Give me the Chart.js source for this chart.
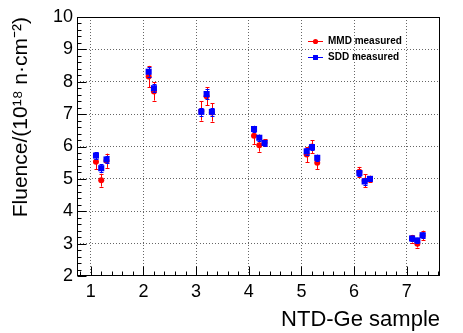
<!DOCTYPE html>
<html><head><meta charset="utf-8">
<script src="https://cdn.jsdelivr.net/npm/chart.js@4.4.1/dist/chart.umd.min.js"></script>
<style>html,body{margin:0;padding:0;background:#fff;}canvas{display:block;}</style>
</head><body>
<canvas id="c" width="463" height="333"></canvas>
<script>
// ---- data ----
const xTickLabels = ['1','2','3','4','5','6','7'];
const yTickLabels = ['2','3','4','5','6','7','8','9','10'];
const seriesNames = ['MMD measured','SDD measured'];
const pointX = [1.1,1.2,1.3, 2.1,2.2, 3.1,3.2,3.3, 4.1,4.2,4.3, 5.1,5.2,5.3, 6.1,6.2,6.3, 7.1,7.2,7.3];
const mmdY   = [5.53,4.96,5.56, 8.16,7.70, 7.10,7.55,7.05, 6.33,6.04,6.12, 5.75,6.00,5.50, 5.22,4.94,5.00, 3.15,3.00,3.25];
const mmdErr = [0.24,0.20,0.22, 0.33,0.28, 0.30,0.28,0.28, 0.25,0.20,0.10, 0.23,0.20,0.20, 0.15,0.20,0.10, 0.12,0.12,0.15];
const sddY   = [5.72,5.33,5.60, 8.31,7.80, 7.07,7.62,7.07, 6.54,6.27,6.11, 5.85,5.98,5.65, 5.18,4.92,5.00, 3.16,3.10,3.26];
const sddErr = [0.11,0.12,0.12, 0.15,0.13, 0.12,0.15,0.12, 0.10,0.10,0.08, 0.10,0.10,0.10, 0.10,0.10,0.08, 0.08,0.08,0.08];

const isInt = v => Math.abs(v - Math.round(v)) < 1e-6;
const toPts = ys => pointX.map((x, i) => ({x: x, y: ys[i]}));

const errorBars = {
  id: 'errorBars',
  beforeDatasetDraw(chart, args) {
    const ds = chart.data.datasets[args.index];
    const errs = ds.errors;
    const ctx = chart.ctx, xs = chart.scales.x, ys = chart.scales.y;
    ctx.save();
    ctx.strokeStyle = ds.borderColor;
    ctx.lineWidth = 1;
    ds.data.forEach((p, i) => {
      const px = Math.round(xs.getPixelForValue(p.x)) + 0.5;
      const y1 = ys.getPixelForValue(p.y + errs[i]);
      const y2 = ys.getPixelForValue(p.y - errs[i]);
      ctx.beginPath();
      ctx.moveTo(px, y1); ctx.lineTo(px, y2);
      ctx.moveTo(px - 2, Math.round(y1) + 0.5); ctx.lineTo(px + 2, Math.round(y1) + 0.5);
      ctx.moveTo(px - 2, Math.round(y2) + 0.5); ctx.lineTo(px + 2, Math.round(y2) + 0.5);
      ctx.stroke();
    });
    ctx.restore();
  }
};

const frameAndTicks = {
  id: 'frameAndTicks',
  beforeDraw(chart) {
    const ctx = chart.ctx;
    ctx.save(); ctx.fillStyle = '#fff'; ctx.fillRect(0, 0, chart.width, chart.height); ctx.restore();
  },
  afterDraw(chart) {
    const ctx = chart.ctx, ca = chart.chartArea, xs = chart.scales.x, ys = chart.scales.y;
    ctx.save();
    ctx.strokeStyle = '#000'; ctx.lineWidth = 1;
    const L = Math.round(ca.left) + 0.5, R = Math.round(ca.right) - 0.5;
    const T = Math.round(ca.top) + 0.5, B = Math.round(ca.bottom) - 0.5;
    ctx.beginPath();
    ys.ticks.forEach(t => {
      const py = Math.round(ys.getPixelForValue(t.value)) + 0.5;
      const len = isInt(t.value) ? 9 : 4;
      ctx.moveTo(L, py); ctx.lineTo(L + len, py);
    });
    xs.ticks.forEach(t => {
      const px = Math.round(xs.getPixelForValue(t.value)) + 0.5;
      const len = isInt(t.value) ? 9 : 4;
      ctx.moveTo(px, B); ctx.lineTo(px, B - len);
    });
    ctx.stroke();
    ctx.strokeRect(L, T, R - L, B - T);
    // legend
    const items = [0, 1];
    ctx.font = 'bold 10px "Liberation Sans", Arial, sans-serif';
    ctx.textBaseline = 'middle'; ctx.textAlign = 'left';
    items.forEach((di, k) => {
      const ds = chart.data.datasets[di];
      const y = Math.round(ca.top + 24 + k * 16) + 0.5;
      const x0 = ca.left + 231, x1 = ca.left + 246;
      ctx.strokeStyle = ds.borderColor; ctx.fillStyle = ds.backgroundColor;
      ctx.beginPath(); ctx.moveTo(x0, y); ctx.lineTo(x1, y); ctx.stroke();
      Chart.helpers.drawPoint(ctx, {pointStyle: ds.pointStyle, radius: ds.pointStyle === 'rect' ? 3.5 : 2.6, borderWidth: 0, rotation: 0}, (x0 + x1) / 2, y);
      ctx.fillStyle = '#000';
      ctx.fillText(ds.label, x1 + 5, y);
    });
    ctx.restore();
  }
};

new Chart(document.getElementById('c'), {
  type: 'scatter',
  data: {
    datasets: [
      {label: seriesNames[0], data: toPts(mmdY), errors: mmdErr, pointStyle: 'circle', pointRadius: 3, pointBorderWidth: 0,
       backgroundColor: '#ff0000', borderColor: '#ff0000', order: 2},
      {label: seriesNames[1], data: toPts(sddY), errors: sddErr, pointStyle: 'rect', pointRadius: 4.3, pointBorderWidth: 0,
       backgroundColor: '#0000ff', borderColor: '#0000ff', order: 1}
    ]
  },
  options: {
    responsive: false,
    animation: false,
    layout: {padding: {left: 0, top: 17, right: 23, bottom: 0}},
    plugins: {legend: {display: false}, tooltip: {enabled: false}},
    scales: {
      x: {
        type: 'linear', min: 0.74, max: 7.63,
        afterFit: s => { s.height = 57; },
        grid: {drawTicks: false, color: 'rgba(0,0,0,0.6)', lineWidth: c => (c.tick && isInt(c.tick.value) && c.tick.value > 0.9 && c.tick.value < 7.5) ? 1 : 0},
        border: {display: false, dash: [1, 2]},
        ticks: {stepSize: 0.2, includeBounds: false, autoSkip: false, maxRotation: 0, minRotation: 0, padding: 5,
          color: '#000', font: {family: '"Liberation Sans", Arial, sans-serif', size: 18},
          callback: v => isInt(v) ? (xTickLabels[Math.round(v) - 1] || '') : ''},
        title: {display: true, text: 'NTD-Ge sample', align: 'end', color: '#000',
          font: {family: '"Liberation Sans", Arial, sans-serif', size: 22}, padding: {top: 4, bottom: 0}}
      },
      y: {
        type: 'linear', min: 2, max: 10,
        afterFit: s => { s.width = 77; },
        grid: {drawTicks: false, color: 'rgba(0,0,0,0.6)', lineWidth: c => (c.tick && isInt(c.tick.value) && c.tick.value > 2.5 && c.tick.value < 9.5) ? 1 : 0},
        border: {display: false, dash: [1, 2]},
        ticks: {stepSize: 0.2, autoSkip: false, padding: 4,
          color: '#000', font: {family: '"Liberation Sans", Arial, sans-serif', size: 18},
          callback: v => isInt(v) ? (yTickLabels[Math.round(v) - 2] || '') : ''},
        title: {display: true, text: 'Fluence/(10¹⁸ n·cm⁻²)', align: 'end', color: '#000',
          font: {family: '"Liberation Sans", Arial, sans-serif', size: 21}, padding: {top: 9, bottom: 0}}
      }
    }
  },
  plugins: [errorBars, frameAndTicks]
});
</script>
</body></html>
